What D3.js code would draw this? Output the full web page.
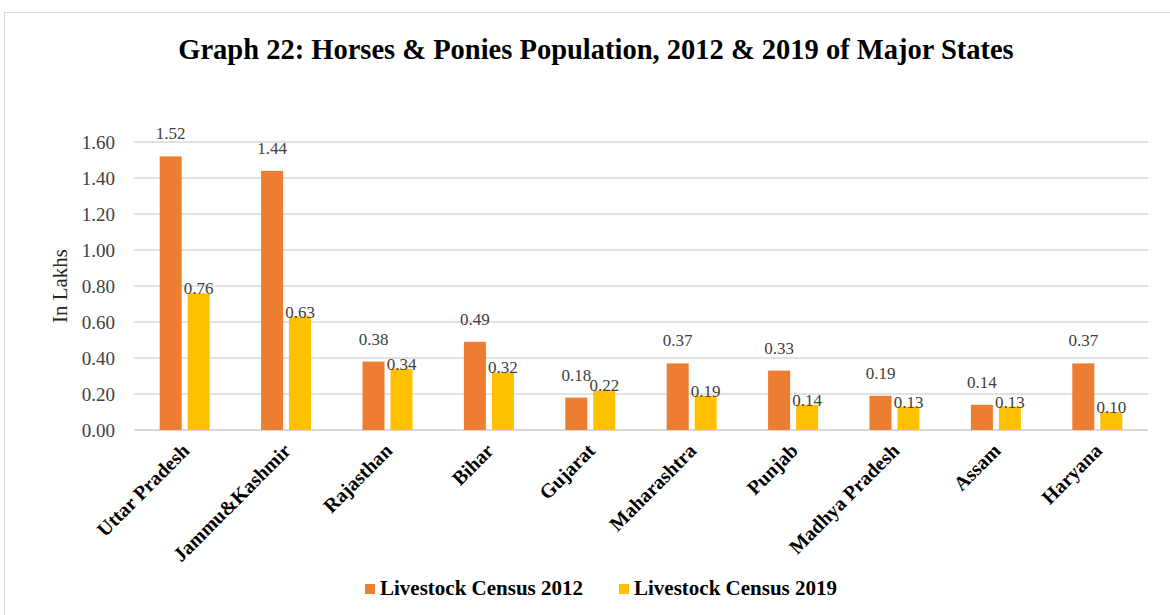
<!DOCTYPE html>
<html><head><meta charset="utf-8">
<script src="https://cdn.jsdelivr.net/npm/d3@7"></script>
<style>
html,body{margin:0;padding:0;background:#fff;}
svg{display:block;font-family:"Liberation Serif","Times New Roman",serif;}
</style></head>
<body><svg id="c" width="1170" height="615"></svg>
<script>
const categories = ["Uttar Pradesh","Jammu&Kashmir","Rajasthan","Bihar","Gujarat","Maharashtra","Punjab","Madhya Pradesh","Assam","Haryana"];
const census2012 = [1.52,1.44,0.38,0.49,0.18,0.37,0.33,0.19,0.14,0.37];
const census2019 = [0.76,0.63,0.34,0.32,0.22,0.19,0.14,0.13,0.13,0.10];
const seriesNames = ["Livestock Census 2012","Livestock Census 2019"];
const yTicks = [0,0.2,0.4,0.6,0.8,1.0,1.2,1.4,1.6];
const colors = ["#ED7D31","#FFC000"];

const svg = d3.select("#c");
svg.append("rect").attr("x",4.5).attr("y",12.5).attr("width",1180).attr("height",620)
  .attr("fill","#fff").attr("stroke","#d9d9d9");

svg.append("text").attr("x",596).attr("y",59).attr("text-anchor","middle")
  .attr("font-size",28.5).attr("font-weight","bold").attr("fill","#000")
  .text("Graph 22: Horses & Ponies Population, 2012 & 2019 of Major States");

const m = {l:134, r:1148, t:142, b:430};
const x = d3.scaleBand().domain(categories).range([m.l,m.r]).paddingInner(0).paddingOuter(0);
const y = d3.scaleLinear().domain([0,1.6]).range([m.b,m.t]);

const grid = svg.append("g");
grid.selectAll("line").data(yTicks).join("line")
  .attr("x1",m.l).attr("x2",m.r).attr("y1",d=>y(d)).attr("y2",d=>y(d))
  .attr("stroke","#d9d9d9").attr("stroke-width",d=>d===0?2:1.3);

const yAxis = svg.append("g").attr("transform",`translate(${m.l},0)`)
  .call(d3.axisLeft(y).tickValues(yTicks).tickFormat(d3.format(".2f")).tickSize(0).tickPadding(19));
yAxis.select(".domain").remove();
yAxis.selectAll("text").attr("font-size",19).attr("fill","#404040").attr("font-family","Liberation Serif, serif");

svg.append("text").attr("transform","translate(67,286) rotate(-90)").attr("text-anchor","middle")
  .attr("font-size",21).attr("fill","#262626").text("In Lakhs");

const bw = 22, gap = 6;
const series = [census2012, census2019];
series.forEach((vals,si)=>{
  const g = svg.append("g");
  const off = si===0 ? -(bw+gap/2) : gap/2;
  g.selectAll("rect").data(vals).join("rect")
    .attr("x",(d,i)=>x(categories[i])+x.bandwidth()/2+off)
    .attr("y",d=>y(d)).attr("width",bw).attr("height",d=>y(0)-y(d))
    .attr("fill",colors[si]);
  g.selectAll("text").data(vals).join("text")
    .attr("x",(d,i)=>x(categories[i])+x.bandwidth()/2+off+bw/2)
    .attr("y",d=>y(d)-(si===0?17:-1))
    .attr("text-anchor","middle").attr("font-size",17).attr("fill","#404040")
    .text(d=>d.toFixed(2));
});

const xl = svg.append("g");
xl.selectAll("text").data(categories).join("text")
  .attr("transform",d=>`translate(${x(d)+x.bandwidth()/2+6},452) rotate(-45)`)
  .attr("text-anchor","end").attr("font-size",20).attr("font-weight","bold").attr("fill","#000")
  .text(d=>d);

const leg = svg.append("g");
const legX = [365, 619];
seriesNames.forEach((n,i)=>{
  leg.append("rect").attr("x",legX[i]).attr("y",584).attr("width",10).attr("height",10).attr("fill",colors[i]);
  leg.append("text").attr("x",legX[i]+15).attr("y",595).attr("font-size",21).attr("font-weight","bold")
    .attr("fill","#000").text(n);
});
</script></body></html>
